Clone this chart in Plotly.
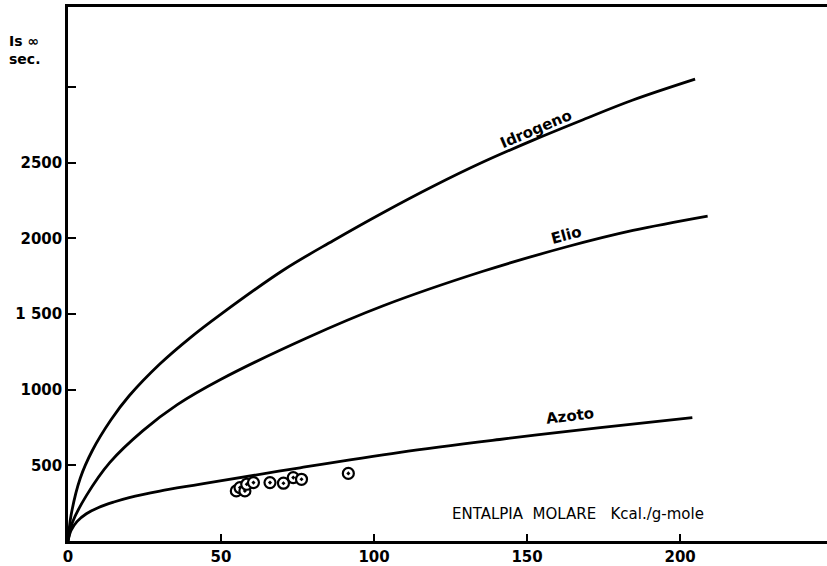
import plotly.graph_objects as go

# Curves (Is_inf in sec vs molar enthalpy in kcal/g-mole)
idro_x = [0, 1, 4, 8, 14, 20, 30, 40, 50, 70.3, 86.6, 102.9, 119.3, 135.6, 152, 168.3, 184.6, 204.9]
idro_y = [0, 170, 415, 600, 800, 960, 1170, 1345, 1500, 1790, 1985, 2170, 2345, 2505, 2650, 2785, 2915, 3053]

elio_x = [0, 1.5, 6, 13.7, 24.5, 35.6, 49.7, 78, 103, 135.6, 163, 184.6, 209]
elio_y = [0, 125, 300, 520, 730, 900, 1066, 1342, 1555, 1783, 1945, 2053, 2148]

azoto_x = [0, 1, 3, 6, 10, 15, 20, 30, 41, 49.7, 75.8, 108.5, 141, 173.9, 204]
azoto_y = [0, 70, 130, 180, 222, 258, 287, 330, 368, 397, 484, 586, 671, 750, 816]

# Experimental points
pts_x = [55, 56.2, 57.8, 58.4, 60.6, 66, 70.4, 73.6, 76.3, 91.6]
pts_y = [331, 353, 331, 375, 386, 386, 382, 419, 408, 447]

x_ticks = [0, 50, 100, 150, 200]
x_ticktext = ["0", "50", "100", "150", "200"]
y_ticks = [500, 1000, 1500, 2000, 2500, 3000]
y_ticktext = ["500", "1000", "1 500", "2000", "2500", ""]

curve_labels = [
    ("Idrogeno", 153, 2724, -23),
    ("Elio", 163, 2020, -15),
    ("Azoto", 164, 829, -7),
]

FONT = "DejaVu Sans"
fig = go.Figure()
line = dict(color="black", width=2.8, shape="spline", smoothing=1.0)
for xs, ys in [(idro_x, idro_y), (elio_x, elio_y), (azoto_x, azoto_y)]:
    fig.add_trace(go.Scatter(x=xs, y=ys, mode="lines", line=line, showlegend=False, hoverinfo="skip"))

fig.add_trace(go.Scatter(
    x=pts_x, y=pts_y, mode="markers",
    marker=dict(symbol="circle-dot", size=11, color="white",
                line=dict(color="black", width=2.2)),
    showlegend=False))

for txt, xx, yy, ang in curve_labels:
    fig.add_annotation(x=xx, y=yy, text=txt, showarrow=False, textangle=ang,
                       font=dict(family=FONT, size=15, color="black", weight="bold"))

fig.add_annotation(x=166.7, y=178, text="ENTALPIA  MOLARE   Kcal./g-mole", showarrow=False,
                   font=dict(family=FONT, size=15, color="black"))

fig.add_annotation(xref="paper", yref="paper", x=-0.08, y=0.92, xanchor="left", yanchor="middle",
                   text="Is ∞<br>sec.", showarrow=False, align="left",
                   font=dict(family=FONT, size=14, color="black", weight="bold"))

fig.update_layout(
    width=827, height=566,
    margin=dict(l=68, r=0, t=7, b=22),
    paper_bgcolor="white", plot_bgcolor="white",
    font=dict(family=FONT, color="black"),
    xaxis=dict(range=[0, 248], tickvals=x_ticks, ticktext=x_ticktext,
               showline=True, linecolor="black", linewidth=2.5, mirror=True,
               ticks="inside", ticklen=7, tickwidth=1.5, tickcolor="black",
               showgrid=False, zeroline=False,
               tickfont=dict(family=FONT, size=15, color="black", weight="bold")),
    yaxis=dict(range=[0, 3530], tickvals=y_ticks, ticktext=y_ticktext,
               showline=True, linecolor="black", linewidth=2.5,
               ticks="inside", ticklen=8, tickwidth=1.5, tickcolor="black",
               showgrid=False, zeroline=False,
               tickfont=dict(family=FONT, size=15, color="black", weight="bold")),
)

fig.write_html("out.html")
